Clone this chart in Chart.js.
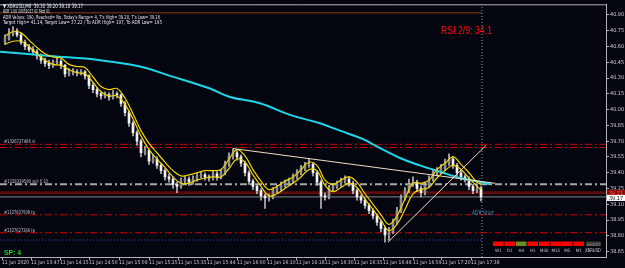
<!DOCTYPE html>
<html>
<head>
<meta charset="utf-8">
<script src="https://cdn.jsdelivr.net/npm/chart.js@4.4.1/dist/chart.umd.min.js"></script>
<style>
html, body { margin: 0; padding: 0; background: #03050f; }
#wrap { width: 625px; height: 268px; position: relative; }
</style>
</head>
<body>
<div id="wrap"><canvas id="chart"></canvas></div>
<script>
// XBRUSD M6 chart

// x axis time labels and the bar position they sit at
const xLabels = ['11 Jun 2020', '11 Jun 13:47', '11 Jun 14:15', '11 Jun 14:50', '11 Jun 15:09', '11 Jun 15:25',
    '11 Jun 15:35', '11 Jun 15:44', '11 Jun 16:00', '11 Jun 16:10', '11 Jun 16:18', '11 Jun 16:30',
    '11 Jun 16:35', '11 Jun 16:48', '11 Jun 16:59', '11 Jun 17:20', '11 Jun 17:38'];
const xLabelBars = [-0.75, 6.5, 13.75, 21, 28.5, 36, 43.25, 50.5, 58, 65.5, 72.75, 80, 87.25, 94.5, 102, 109.25, 116.5];

const yTicks = [38.65, 38.80, 38.95, 39.10, 39.25, 39.40, 39.55, 39.70, 39.85, 40.00, 40.15, 40.30, 40.45, 40.60, 40.75, 40.90];

// candles, one per bar
const opens = [
    40.64, 40.68, 40.72, 40.75, 40.71, 40.64, 40.60, 40.57, 40.55, 40.51,
    40.47, 40.44, 40.42, 40.45, 40.46, 40.42, 40.34, 40.36, 40.36, 40.35,
    40.36, 40.32, 40.23, 40.19, 40.15, 40.13, 40.14, 40.12, 40.15, 40.14,
    40.06, 39.97, 39.87, 39.78, 39.70, 39.59, 39.61, 39.51, 39.53, 39.47,
    39.42, 39.36, 39.34, 39.29, 39.27, 39.32, 39.34, 39.31, 39.34, 39.37,
    39.38, 39.36, 39.35, 39.39, 39.36, 39.40, 39.48, 39.56, 39.59, 39.55,
    39.49, 39.40, 39.32, 39.27, 39.23, 39.18, 39.16, 39.17, 39.23, 39.25,
    39.28, 39.31, 39.32, 39.36, 39.40, 39.44, 39.47, 39.48, 39.40, 39.31,
    39.18, 39.17, 39.25, 39.27, 39.29, 39.32, 39.34, 39.30, 39.23, 39.17,
    39.14, 39.09, 39.04, 38.99, 38.93, 38.87, 38.81, 38.84, 38.93, 39.04,
    39.16, 39.23, 39.29, 39.31, 39.25, 39.21, 39.28, 39.34, 39.40, 39.42,
    39.44, 39.49, 39.53, 39.47, 39.40, 39.36, 39.34, 39.27, 39.23, 39.25
];
const highs = [
    40.71, 40.77, 40.79, 40.77, 40.73, 40.66, 40.62, 40.60, 40.57, 40.53,
    40.49, 40.47, 40.47, 40.49, 40.48, 40.43, 40.39, 40.39, 40.38, 40.38,
    40.37, 40.33, 40.25, 40.21, 40.17, 40.17, 40.16, 40.18, 40.17, 40.15,
    40.08, 39.99, 39.89, 39.80, 39.72, 39.65, 39.63, 39.57, 39.55, 39.49,
    39.44, 39.39, 39.36, 39.31, 39.35, 39.37, 39.36, 39.37, 39.40, 39.41,
    39.40, 39.38, 39.42, 39.41, 39.43, 39.51, 39.59, 39.63, 39.61, 39.57,
    39.51, 39.42, 39.34, 39.29, 39.25, 39.20, 39.20, 39.26, 39.28, 39.31,
    39.33, 39.35, 39.39, 39.43, 39.47, 39.50, 39.53, 39.50, 39.42, 39.33,
    39.21, 39.28, 39.30, 39.32, 39.35, 39.37, 39.36, 39.32, 39.25, 39.19,
    39.16, 39.11, 39.06, 39.01, 38.95, 38.89, 38.88, 38.96, 39.07, 39.19,
    39.26, 39.34, 39.36, 39.33, 39.27, 39.31, 39.37, 39.43, 39.45, 39.48,
    39.53, 39.58, 39.55, 39.49, 39.42, 39.38, 39.36, 39.29, 39.29, 39.27
];
const lows = [
    40.62, 40.66, 40.70, 40.69, 40.62, 40.57, 40.55, 40.52, 40.48, 40.44,
    40.41, 40.39, 40.40, 40.43, 40.39, 40.31, 40.32, 40.33, 40.32, 40.33,
    40.29, 40.20, 40.16, 40.12, 40.10, 40.11, 40.09, 40.10, 40.11, 40.03,
    39.94, 39.84, 39.75, 39.66, 39.55, 39.57, 39.48, 39.49, 39.44, 39.39,
    39.33, 39.31, 39.25, 39.21, 39.25, 39.29, 39.28, 39.29, 39.32, 39.35,
    39.33, 39.32, 39.33, 39.33, 39.34, 39.38, 39.46, 39.53, 39.52, 39.46,
    39.37, 39.29, 39.24, 39.20, 39.14, 39.06, 39.13, 39.15, 39.21, 39.23,
    39.26, 39.29, 39.30, 39.34, 39.38, 39.42, 39.45, 39.37, 39.28, 39.06,
    39.14, 39.15, 39.23, 39.25, 39.27, 39.30, 39.27, 39.20, 39.14, 39.11,
    39.06, 39.01, 38.96, 38.90, 38.84, 38.74, 38.76, 38.82, 38.91, 39.02,
    39.14, 39.21, 39.27, 39.22, 39.17, 39.19, 39.26, 39.32, 39.37, 39.39,
    39.42, 39.47, 39.44, 39.37, 39.33, 39.31, 39.24, 39.20, 39.21, 39.13
];
const closes = [
    40.68, 40.72, 40.75, 40.71, 40.64, 40.60, 40.57, 40.55, 40.51, 40.47,
    40.44, 40.42, 40.45, 40.46, 40.42, 40.34, 40.36, 40.36, 40.35, 40.36,
    40.32, 40.23, 40.19, 40.15, 40.13, 40.14, 40.12, 40.15, 40.14, 40.06,
    39.97, 39.87, 39.78, 39.70, 39.59, 39.61, 39.51, 39.53, 39.47, 39.42,
    39.36, 39.34, 39.29, 39.27, 39.32, 39.34, 39.31, 39.34, 39.37, 39.38,
    39.36, 39.35, 39.39, 39.36, 39.40, 39.48, 39.56, 39.59, 39.55, 39.49,
    39.40, 39.32, 39.27, 39.23, 39.18, 39.16, 39.17, 39.23, 39.25, 39.28,
    39.31, 39.32, 39.36, 39.40, 39.44, 39.47, 39.48, 39.40, 39.31, 39.18,
    39.17, 39.25, 39.27, 39.29, 39.32, 39.34, 39.30, 39.23, 39.17, 39.14,
    39.09, 39.04, 38.99, 38.93, 38.87, 38.81, 38.84, 38.93, 39.04, 39.16,
    39.23, 39.29, 39.31, 39.25, 39.21, 39.28, 39.34, 39.40, 39.42, 39.44,
    39.49, 39.53, 39.47, 39.40, 39.36, 39.34, 39.27, 39.23, 39.25, 39.17
];

// yellow envelope (upper / lower), read every other bar
const bandBars = [0, 2, 4, 6, 8, 10, 12, 14, 16, 18, 20, 22, 24, 26, 28, 30, 32, 34, 36, 38,
    40, 42, 44, 46, 48, 50, 52, 54, 56, 58, 60, 62, 64, 66, 68, 70, 72, 74, 76, 78,
    80, 82, 84, 86, 88, 90, 92, 94, 96, 98, 100, 102, 104, 106, 108, 110, 112, 114, 116, 118, 119];
const bandUpper = [40.70, 40.74, 40.73, 40.66, 40.59, 40.53, 40.50, 40.49, 40.43, 40.41,
    40.40, 40.31, 40.22, 40.19, 40.20, 40.11, 39.96, 39.80, 39.68, 39.59,
    39.50, 39.42, 39.37, 39.38, 39.40, 39.42, 39.42, 39.43, 39.53, 39.62,
    39.56, 39.43, 39.32, 39.24, 39.27, 39.32, 39.36, 39.43, 39.50, 39.47,
    39.33, 39.29, 39.33, 39.36, 39.31, 39.20, 39.10, 39.00, 38.91, 38.99,
    39.15, 39.30, 39.30, 39.33, 39.43, 39.49, 39.55, 39.48, 39.40, 39.31, 39.29];
const bandLower = [40.62, 40.65, 40.65, 40.60, 40.53, 40.47, 40.43, 40.42, 40.38, 40.35,
    40.34, 40.26, 40.17, 40.13, 40.13, 40.05, 39.91, 39.75, 39.62, 39.53,
    39.45, 39.36, 39.30, 39.30, 39.33, 39.35, 39.36, 39.36, 39.44, 39.53,
    39.50, 39.38, 39.27, 39.18, 39.20, 39.25, 39.30, 39.36, 39.43, 39.42,
    39.28, 39.22, 39.26, 39.30, 39.26, 39.15, 39.05, 38.95, 38.85, 38.91,
    39.05, 39.20, 39.24, 39.26, 39.35, 39.42, 39.47, 39.43, 39.35, 39.27, 39.24];

// slow cyan moving average
const maBars = [-1.25, 11.25, 23.75, 33.75, 40.5, 51.25, 56.25, 63.75, 71.25, 78.75, 83.75, 89.5, 92, 98.75, 103.75, 108.75, 113.75, 119.25, 121.25];
const maValues = [40.55, 40.51, 40.47, 40.41, 40.33, 40.20, 40.12, 40.06, 39.95, 39.87, 39.80, 39.72, 39.67, 39.54, 39.47, 39.41, 39.35, 39.31, 39.29];

// trend lines drawn on the chart
const trendDownBars = [57, 122.5];
const trendDownValues = [39.63, 39.30];
const trendUpBars = [95.75, 120.25];
const trendUpValues = [38.74, 39.66];

// order / level lines
const redLevels = [39.67, 39.64, 39.00, 38.83];
const sellLevel = 39.29;
const askLevel = 39.21;
const bidLevel = 39.17;
const adrLevel = 40.92;
const lowLevel = 38.76;
const nowBar = 119.25;
const orderTags = [
    { price: 39.67, text: '#1326727466 sl' },
    { price: 39.29, text: '#1328339598 sell 0.10' },
    { price: 39.00, text: '#1327637508 tp' },
    { price: 38.83, text: '#1327627266 tp' }
];

const tfNames = ['W1', 'D1', 'H4', 'H1', 'M30', 'M15', 'M5', 'M1'];
const tfState = ['down', 'down', 'up', 'down', 'down', 'down', 'down', 'down'];

const X_MIN = -1.25, X_MAX = 150.25;
const Y_MIN = 38.599, Y_MAX = 41.001;
const SMALL = "'Liberation Sans Narrow', 'DejaVu Sans Condensed', sans-serif";

function hLine(price, x0, x1, color, width, dash, order) {
    return {
        type: 'line',
        data: [{ x: x0, y: price }, { x: x1, y: price }],
        borderColor: color,
        borderWidth: width,
        borderDash: dash,
        pointRadius: 0,
        order: order
    };
}

function pairs(xs, ys) {
    return xs.map((x, i) => ({ x: x, y: ys[i] }));
}

const datasets = [];

redLevels.forEach(p => datasets.push(hLine(p, X_MIN, X_MAX, '#d00000', 1, [7, 3, 2, 3], 20)));
datasets.push(hLine(sellLevel, X_MIN, X_MAX, '#a8a8a8', 2, [7, 3, 2, 3], 20));
datasets.push(hLine(askLevel, X_MIN, X_MAX, '#5c0c0c', 3, [], 21));
datasets.push(hLine(bidLevel, X_MIN, X_MAX, '#8a8a8a', 1, [], 20));
datasets.push(hLine(adrLevel, X_MIN, nowBar, '#8b3a1a', 1, [], 20));
datasets.push(hLine(lowLevel, X_MIN, nowBar, '#4646c8', 1, [1, 2], 20));
datasets.push({
    type: 'line',
    data: [{ x: nowBar, y: Y_MIN }, { x: nowBar, y: Y_MAX }],
    borderColor: '#9a9a9a',
    borderWidth: 1,
    borderDash: [1, 2],
    pointRadius: 0,
    order: 20
});

// candles: wick + body as floating bars
datasets.push({
    type: 'bar',
    data: highs.map((h, i) => ({ x: i, y: [lows[i], h] })),
    backgroundColor: '#b8b8b8',
    barThickness: 1,
    grouped: false,
    order: 12
});
datasets.push({
    type: 'bar',
    data: closes.map((c, i) => ({ x: i, y: [opens[i], c] })),
    backgroundColor: closes.map((c, i) => c >= opens[i] ? '#8c8c8c' : '#f4f4f4'),
    borderWidth: 0,
    barThickness: 2,
    minBarLength: 1,
    grouped: false,
    order: 11
});

datasets.push({
    type: 'line',
    data: pairs(maBars, maValues),
    borderColor: '#1fd6ea',
    borderWidth: 2,
    tension: 0.4,
    pointRadius: 0,
    order: 5
});
datasets.push({
    type: 'line',
    data: pairs(bandBars, bandUpper),
    borderColor: '#f2d400',
    borderWidth: 1.2,
    tension: 0.4,
    pointRadius: 0,
    order: 4
});
datasets.push({
    type: 'line',
    data: pairs(bandBars, bandLower),
    borderColor: '#f2d400',
    borderWidth: 1.2,
    tension: 0.4,
    pointRadius: 0,
    order: 4
});
datasets.push({
    type: 'line',
    data: pairs(trendDownBars, trendDownValues),
    borderColor: '#f5dcc0',
    borderWidth: 1,
    pointRadius: 0,
    order: 3
});
datasets.push({
    type: 'line',
    data: pairs(trendUpBars, trendUpValues),
    borderColor: '#f5dcc0',
    borderWidth: 1,
    pointRadius: 0,
    order: 3
});

const mtBackground = {
    id: 'mtBackground',
    beforeDraw(chart) {
        const ctx = chart.ctx;
        ctx.save();
        ctx.fillStyle = '#03050f';
        ctx.fillRect(0, 0, chart.width, chart.height);
        ctx.restore();
    }
};

function text(ctx, s, x, y, color, font, maxW) {
    ctx.fillStyle = color;
    ctx.font = font;
    if (maxW) ctx.fillText(s, x, y, maxW);
    else ctx.fillText(s, x, y);
}

const mtOverlay = {
    id: 'mtOverlay',
    afterDraw(chart) {
        const ctx = chart.ctx;
        const area = chart.chartArea;
        const yScale = chart.scales.y;
        ctx.save();

        // frame top
        ctx.strokeStyle = '#b4b4b4';
        ctx.lineWidth = 1;
        ctx.beginPath();
        ctx.moveTo(0, area.top + 0.5);
        ctx.lineTo(area.right + 0.5, area.top + 0.5);
        ctx.stroke();

        ctx.textBaseline = 'alphabetic';
        ctx.textAlign = 'left';

        // header lines
        text(ctx, '\u25BC XBRUSD,M6  39.16 39.20 39.16 39.17', 3, 8, '#e8e8e8', '6px ' + SMALL, 80);
        text(ctx, 'ADR 1.00 20051027 01 Mod 01', 3, 13, '#e8e8e8', '5.5px ' + SMALL, 47);
        text(ctx, "ADR Values: 190, Reached= No, Today's Range= 4, T's High= 39.20, T's Low= 39.16", 3, 18.5, '#e8e8e8', '5.5px ' + SMALL, 157);
        text(ctx, 'Target High= 41.14, Target Low= 37.22 / To ADR High= 197, To ADR Low= 195', 3, 24, '#e8e8e8', '5.5px ' + SMALL, 159);

        text(ctx, 'RSI 2/9: 34.1', 441, 34, '#ff1010', '10px ' + "'Liberation Sans', sans-serif", 51);

        // order tags on the left
        orderTags.forEach(t => {
            const py = yScale.getPixelForValue(t.price);
            text(ctx, t.text, 4, py - 1, '#c8c8c8', '5px ' + SMALL, t.text.length > 15 ? 44 : 31);
        });

        text(ctx, 'ADR Start', 472, 215, '#4a8fb8', '6.5px ' + SMALL, 22);
        text(ctx, 'SP: 4', 4, 255, '#10e010', 'bold 7px ' + "'Liberation Sans', sans-serif", 17);

        // timeframe strip
        tfNames.forEach((name, k) => {
            const bx = 493 + k * 11.5;
            ctx.fillStyle = tfState[k] === 'up' ? '#6b8e23' : '#ff0000';
            ctx.fillRect(bx, 241.5, 10.5, 4.5);
            ctx.textAlign = 'center';
            text(ctx, name, bx + 5.25, 251.5, '#c8c8c8', '4.5px ' + SMALL, 10);
        });
        ctx.textAlign = 'left';
        ctx.fillStyle = '#3a3a3a';
        ctx.fillRect(586, 241.5, 15, 4.5);
        text(ctx, 'BASE/QT', 587, 245.5, '#9a9a9a', '3.5px ' + SMALL, 13);
        text(ctx, 'XBRUSD', 585, 251.5, '#d8d8d8', '5px ' + SMALL, 16);

        // price boxes on the axis
        const pa = yScale.getPixelForValue(askLevel);
        const pb = yScale.getPixelForValue(bidLevel);
        ctx.fillStyle = '#8a0c0c';
        ctx.fillRect(area.right + 1, pa - 3, 18, 6);
        text(ctx, askLevel.toFixed(2), area.right + 3, pa + 2, '#ff5050', '5.5px ' + SMALL, 14);
        ctx.fillStyle = '#ffffff';
        ctx.fillRect(area.right + 1, pb - 2, 18, 6);
        text(ctx, bidLevel.toFixed(2), area.right + 3, pb + 3, '#000000', '5.5px ' + SMALL, 14);

        ctx.restore();
    }
};

new Chart(document.getElementById('chart'), {
    type: 'bar',
    data: { datasets: datasets },
    options: {
        animation: false,
        responsive: true,
        maintainAspectRatio: false,
        devicePixelRatio: 1,
        layout: { padding: { top: 2, left: 0, right: 0, bottom: 0 } },
        plugins: {
            legend: { display: false },
            tooltip: { enabled: false }
        },
        scales: {
            x: {
                type: 'linear',
                min: X_MIN,
                max: X_MAX,
                offset: false,
                afterBuildTicks: scale => { scale.ticks = xLabelBars.map(v => ({ value: v })); },
                afterFit: scale => { scale.height = 11; },
                ticks: {
                    autoSkip: false,
                    maxRotation: 0,
                    minRotation: 0,
                    align: 'start',
                    padding: 0,
                    color: '#d0d0d0',
                    font: { family: SMALL, size: 5 },
                    callback: (value, index) => xLabels[index]
                },
                grid: { drawOnChartArea: false, offset: false, tickLength: 3, color: '#b4b4b4' },
                border: { color: '#b4b4b4' }
            },
            y: {
                type: 'linear',
                position: 'right',
                min: Y_MIN,
                max: Y_MAX,
                afterBuildTicks: scale => { scale.ticks = yTicks.map(v => ({ value: v })); },
                afterFit: scale => { scale.width = 19; },
                ticks: {
                    padding: 1,
                    color: '#d0d0d0',
                    font: { family: SMALL, size: 5.5 },
                    callback: value => value.toFixed(2)
                },
                grid: { drawOnChartArea: false, tickLength: 3, color: '#b4b4b4' },
                border: { color: '#b4b4b4' }
            }
        }
    },
    plugins: [mtBackground, mtOverlay]
});
</script>
</body>
</html>
